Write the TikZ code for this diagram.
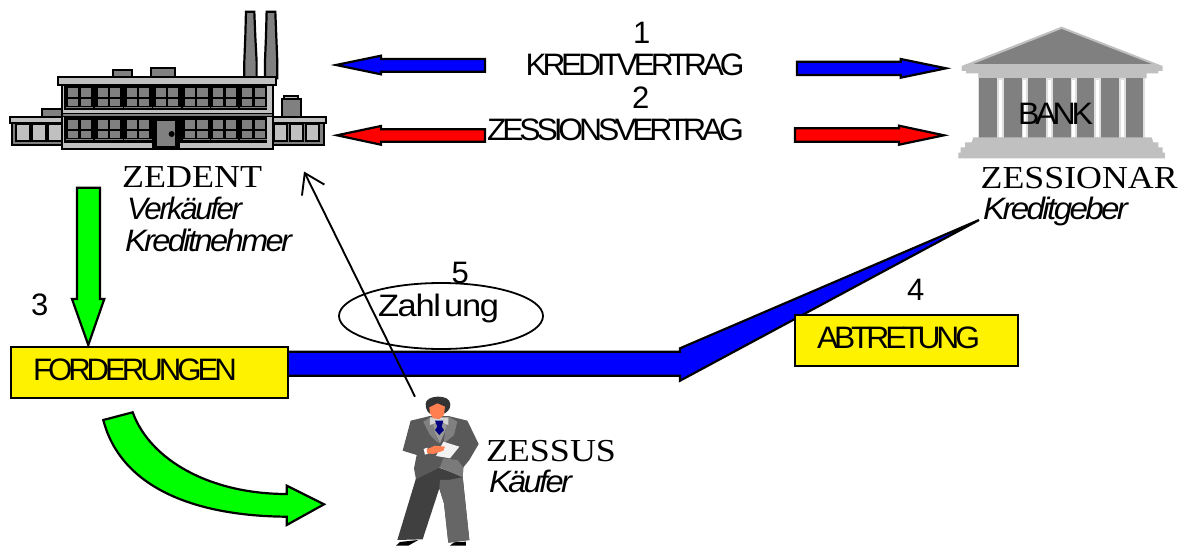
\documentclass[tikz,border=0pt]{standalone}
\usepackage{graphicx}
\usepackage{fontspec}
\usetikzlibrary{shapes.geometric,arrows.meta}
\setmainfont{Liberation Sans}
\newfontfamily\serf{Liberation Serif}
\newfontfamily\cond[LetterSpace=-13]{Liberation Sans}
\newfontfamily\itc[LetterSpace=-8,ItalicFont={Liberation Sans Italic}]{Liberation Sans}
\newfontfamily\semi[LetterSpace=-4]{Liberation Sans}
\definecolor{gA}{HTML}{808080}
\definecolor{gB}{HTML}{C0C0C0}
\definecolor{sk}{HTML}{FF7F50}
\newcommand\lbl[5]{\node[txt] (#1) at (#2,#3) {\resizebox{#4pt}{\height}{#5}};}
\newcommand\digit[4]{\node[txt] (#1) at (#2,#3) {#4};}
\newcommand\serl[5]{\node[txt,font=\fontsize{32}{38}\selectfont] (#1) at (#2,#3) {\resizebox{#4pt}{\height}{\serf #5}};}
\tikzset{
  txt/.style={anchor=base west,inner sep=0pt,outer sep=0pt,font=\fontsize{31}{37}\selectfont},
  blockarrow/.style={draw=black,line width=2.2pt,miter limit=10,line join=miter},
  ybox/.style={draw=black,fill=yellow,line width=1.8pt,inner sep=0pt},
  fac/.style={draw=black,line width=2.2pt},
  pane/.style={fill=gA},
}
\begin{document}
\begin{tikzpicture}[x=1pt,y=-1pt]
\useasboundingbox (0,0) rectangle (1184,546);
\fill[white] (0,0) rectangle (1184,546);
% ---------- factory
\begin{scope}[x=0.3333pt,y=-0.3333pt]
\foreach \a/\b/\c/\e in {738/763/733/770,800/826/795/832}{
  \draw[fac,fill=gA] (\a,35)--(\b,35)--(\b+3,110)--(\e,185)--(\e,235)--(\c,235)--(\c,185)--(\a-2,110)--cycle;
}
\draw[fac,fill=gA] (340,210) rectangle (396,232);
\draw[fac,fill=gA] (453,203) rectangle (526,232);
\draw[fac,fill=gA] (127,328) rectangle (186,352);
\draw[fac,fill=gA] (845,298) rectangle (902,352);
\draw[fac,fill=gB] (852,288) rectangle (895,298);
\draw[fac,fill=gA] (35,370) rectangle (190,435);
\draw[fac,fill=gA] (820,370) rectangle (973,435);
\foreach \x/\w in {50/38,100/35,147/38,826/32,873/33,920/33}{
  \fill[black] (\x-6,372) rectangle (\x+\w+6,426);
  \fill[gB] (\x,375) rectangle (\x+\w,420);
}
\draw[fac,fill=gB] (30,352) rectangle (190,370);
\draw[fac,fill=gB] (820,352) rectangle (978,370);
\draw[fac,fill=gB] (185,255) rectangle (820,447);
\draw[fac,fill=gB] (175,232) rectangle (827,255);
\fill[black] (192,256) rectangle (800,330);
\fill[black] (188,340) rectangle (815,352);
\fill[gA] (188,343) rectangle (815,348);
\fill[black] (192,352) rectangle (800,430);
\foreach \x in {195,283,370,457,545,630,717}{
  \fill[pane] (\x+10,263) rectangle (\x+40,290);
  \fill[pane] (\x+47,263) rectangle (\x+78,290);
  \fill[pane] (\x+10,297) rectangle (\x+40,318);
  \fill[pane] (\x+47,297) rectangle (\x+78,318);
  \fill[gA] (\x+3,322) rectangle (\x+85,325);
}
\foreach \x in {195,283,370,545,630,717}{
  \fill[pane] (\x+10,360) rectangle (\x+40,387);
  \fill[pane] (\x+47,360) rectangle (\x+78,387);
  \fill[pane] (\x+10,393) rectangle (\x+40,414);
  \fill[pane] (\x+47,393) rectangle (\x+78,414);
  \fill[gA] (\x+3,418) rectangle (\x+85,421);
}
\fill[black] (455,347) rectangle (540,447);
\fill[gA] (470,362) rectangle (525,438);
\fill[black] (515,402) circle (9);
\end{scope}
% ---------- bank
\begin{scope}[shift={(940,10)},x=0.3333pt,y=-0.3333pt]
\fill[gB] (365,50)--(668,168)--(668,183)--(655,183)--(655,190)--(620,190)--(620,205)--(115,205)--(115,190)--(78,190)--(78,183)--(65,183)--(65,168)--cycle;
\fill[gA] (100,162)--(365,57)--(635,162)--cycle;
\fill[gB!50] (115,205) rectangle (615,385);
\foreach \x/\w in {118/54,191/54,265/53,338/54,410/52,483/54,557/53}{
  \fill[gA] (\x,205) rectangle (\x+\w,388);
  \fill[white] (\x+\w+5,210) rectangle (\x+\w+14,380);
}
\fill[gB] (100,382)--(635,382)--(640,397)--(655,397)--(655,412)--(668,412)--(668,428)--(675,428)--(675,445)--(55,445)--(55,428)--(62,428)--(62,412)--(75,412)--(75,397)--(95,397)--cycle;
\end{scope}
% ---------- person
\begin{scope}[shift={(380,380)},x=0.3333pt,y=-0.3333pt]
\fill[black] (48,497)--(60,486)--(115,480)--(85,497)--cycle;
\fill[black] (210,497)--(222,487)--(258,485)--(258,497)--cycle;
\fill[black!75] (108,295)--(175,262)--(248,290)--(268,480)--(205,488)--(192,370)--(178,325)--(128,478)--(52,480)--cycle;
\fill[black!60] (180,300)--(205,300)--(248,292)--(268,480)--(205,488)--(192,370)--(178,325)--cycle;
\fill[black!65] (92,122)--(150,108)--(205,108)--(262,122)--(296,192)--(268,240)--(250,262)--(248,292)--(180,262)--(108,298)--(102,265)--(110,225)--(68,212)--cycle;
\fill[black!52] (180,262)--(248,292)--(250,262)--(232,240)--(190,235)--cycle;
\fill[black!40] (150,130)--(205,130)--(180,190)--cycle;
\fill[gA] (130,125)--(155,110)--(165,160)--(178,192)--(150,165)--cycle;
\fill[gA] (205,110)--(232,125)--(222,165)--(190,192)--(198,140)--cycle;
\fill[gB!70] (150,112)--(205,112)--(205,135)--(180,125)--(150,135)--cycle;
\fill[blue!50!black] (165,122)--(190,122)--(185,140)--(192,150)--(178,165)--(165,150)--(172,140)--cycle;
\fill[black!80] (137,72) .. controls (135,45) and (210,40) .. (211,72) .. controls (212,90) and (200,95) .. (195,100)--(148,100) .. controls (142,95) and (137,85) .. (137,72)--cycle;
\fill[sk] (148,82)--(172,70)--(195,80)--(192,105)--(178,117)--(160,115)--(150,100)--cycle;
\fill[white!90!gray] (190,185)--(238,200)--(210,235)--(168,228)--cycle;
\fill[white] (131,207)--(142,203)--(146,220)--(135,224)--cycle;
\fill[sk] (140,208)--(165,197)--(195,200)--(190,212)--(160,222)--(142,220)--cycle;
\end{scope}
% ---------- horizontal block arrows
\draw[blockarrow,fill=blue] (485,59)--(381,59)--(381,55.7)--(336,65)--(381,74.3)--(381,71.7)--(485,71.7)--cycle;
\draw[blockarrow,fill=red] (485,129.3)--(381,129.3)--(381,126)--(337,135.3)--(381,144.7)--(381,141.7)--(485,141.7)--cycle;
\draw[blockarrow,fill=blue] (797,61.7)--(900.7,61.7)--(900.7,59)--(946,68.3)--(900.7,77.7)--(900.7,75)--(797,75)--cycle;
\draw[blockarrow,fill=red] (795,128.3)--(899,128.3)--(899,125.7)--(944,135.3)--(899,144.7)--(899,141.7)--(795,141.7)--cycle;
% ---------- green arrows
\draw[blockarrow,fill=green] (77,187.7)--(100,187.7)--(100,299)--(104.3,299)--(88.3,345)--(72,299)--(77,299)--cycle;
\draw[blockarrow,fill=green] (103.3,420)--(132.7,412.3) .. controls (150,460) and (210,494) .. (286.7,494)--(286.7,485.7)--(324,504.3)--(286.7,525)--(286.7,516.7) .. controls (190,516) and (120,485) .. (103.3,420)--cycle;
% ---------- large blue arrow
\draw[blockarrow,fill=blue] (285,351.7)--(680,351.7)--(680,348.3)--(979,220)--(680,380.7)--(680,375.7)--(285,375.7)--cycle;
% ---------- boxes
\node[ybox,minimum width=277pt,minimum height=51pt] (forderbox) at (149.2,372.2) {};
\node[ybox,minimum width=223pt,minimum height=50.7pt] (abtrbox) at (906.5,340.4) {};
\node[draw=black,ellipse,line width=1.8pt,minimum width=204pt,minimum height=66pt,inner sep=0pt] (zahlell) at (441,316) {};
% ---------- payment connector
\coordinate (zessus) at (415,396.7);
\coordinate (zedent) at (304,171.5);
\draw[line width=1.9pt,-{Straight Barb[length=19pt,width=25pt,line width=1.9pt]}] (zessus)--(zedent);
% ---------- text
\digit{n1}{633}{43}{1}
\lbl{kv}{525.5}{75.7}{219}{\cond KREDITVERTRAG}
\digit{n2}{632}{108}{2}
\lbl{zv}{487}{140}{257}{\cond ZESSIONSVERTRAG}
\serl{ze}{122}{187.7}{140}{ZEDENT}
\lbl{ve}{127}{219}{115}{\itc\itshape Verkäufer}
\lbl{kn}{125}{251.7}{167}{\itc\itshape Kreditnehmer}
\serl{zn}{980.7}{188}{197}{ZESSIONAR}
\lbl{kg}{983}{219}{145}{\itc\itshape Kreditgeber}
\lbl{bk}{1018}{124}{75}{\cond BANK}
\digit{n3}{31}{315}{3}
\digit{n4}{907}{300}{4}
\digit{n5}{451.5}{283}{5}
\lbl{za}{378}{316}{121}{\semi Zahl\kern3pt ung}
\lbl{fo}{33}{380}{204}{\cond FORDERUNGEN}
\lbl{ab}{817}{348}{163}{\cond ABTRETUNG}
\serl{zs}{486}{461}{130}{ZESSUS}
\lbl{ka}{489}{492}{83}{\itc\itshape Käufer}
\end{tikzpicture}
\end{document}
